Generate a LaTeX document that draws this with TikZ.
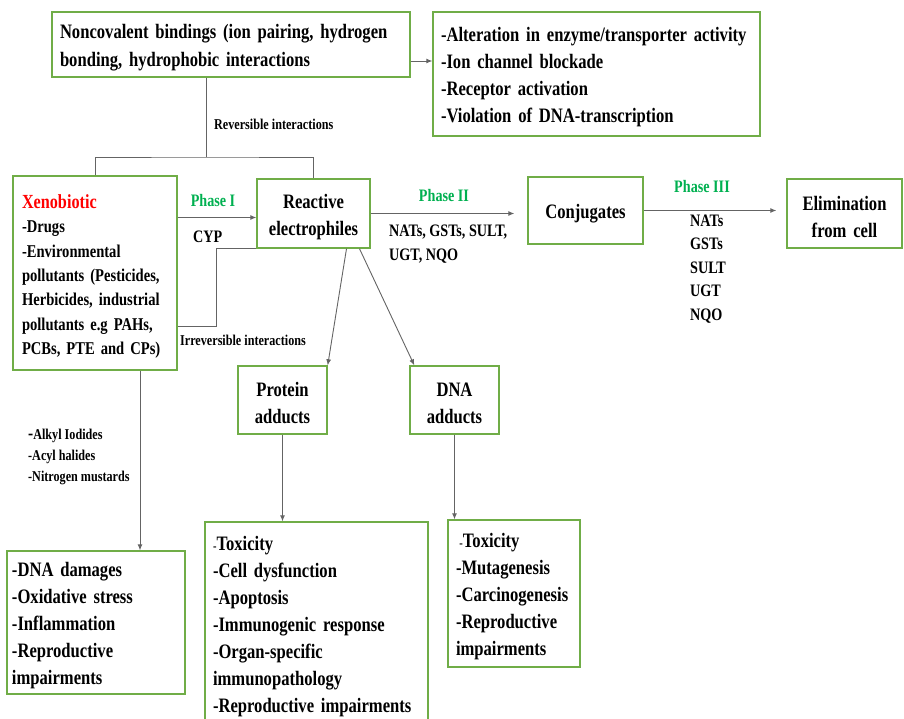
\documentclass[tikz,border=0pt]{standalone}
\usepackage{fontspec}
\setmainfont{Liberation Serif}[FakeStretch=0.81]
\usetikzlibrary{arrows.meta,calc}
\definecolor{boxgreen}{RGB}{112,173,71}
\definecolor{phasegreen}{RGB}{0,176,80}
\definecolor{linegray}{RGB}{100,100,100}
\newcommand{\fsz}[2]{\fontsize{#1}{#2}\selectfont}
\hyphenpenalty=10000

\begin{document}
\begin{tikzpicture}[
    x=1pt, y=-1pt,
    box/.style={draw=boxgreen, line width=1.4pt, inner sep=0pt, text height=21pt, align=center, font=\bfseries\fsz{20.5}{27}},
    lbox/.style={box, align=left},
    lab/.style={inner sep=0pt, font=\bfseries\fsz{17.5}{23.5}},
    phase/.style={lab, text=phasegreen},
    note/.style={inner sep=0pt, font=\bfseries\fsz{15}{21}},
    link/.style={draw=linegray, line width=0.9pt},
    arrow/.style={link, -{Latex[length=6pt,width=5pt]}}
]
\useasboundingbox (0,0) rectangle (904,718);

% top row
\node[lbox, minimum width=358pt, minimum height=65pt, inner xsep=8pt, text width=342pt, font=\bfseries\fsz{20.5}{28}] (nc) at (231,44.5) {Noncovalent bindings (ion pairing, hydrogen\\bonding, hydrophobic interactions};
\node[lbox, minimum width=327pt, minimum height=124pt, inner xsep=8pt, text width=311pt] (eff) at (596.5,74) {-Alteration in enzyme/transporter activity\\-Ion channel blockade\\-Receptor activation\\-Violation of DNA-transcription};

% main chain
\node[lbox, minimum width=164pt, minimum height=194pt, inner xsep=9pt, text width=146pt, font=\bfseries\fsz{18}{24.3}] (xeno) at (95,273) {{\color{red}\fsz{20}{24.3}Xenobiotic}\\-Drugs\\-Environmental\\pollutants (Pesticides,\\Herbicides, industrial\\pollutants e.g PAHs,\\PCBs, PTE and CPs)};
\node[box, minimum height=69pt, text width=113pt] (re) at (313.5,213.5) {Reactive\\electrophiles};
\node[box, minimum height=67pt, text width=115pt] (conj) at (585.5,210.5) {Conjugates};
\node[box, minimum height=69pt, text width=115pt] (elim) at (844.5,213.5) {Elimination\\from cell};

% adducts
\node[box, minimum height=68pt, text width=89pt] (pa) at (282.5,400) {Protein\\adducts};
\node[box, minimum height=68pt, text width=89pt] (da) at (454.5,400) {DNA\\adducts};

% outcomes
\node[lbox, minimum width=178pt, minimum height=143pt, inner xsep=5pt, text width=168pt] (dd) at (96,622.5) {-DNA damages\\-Oxidative stress\\-Inflammation\\-Reproductive\\impairments};
\node[lbox, minimum width=223pt, minimum height=202pt, inner xsep=8pt, text width=207pt] (pl) at (316.5,623) {{\fsz{13}{27}-}Toxicity\\-Cell dysfunction\\-Apoptosis\\-Immunogenic response\\-Organ-specific\\immunopathology\\-Reproductive impairments};
\node[lbox, minimum width=132pt, minimum height=147pt, inner xsep=8pt, text width=116pt] (dl) at (514,593.5) {\,{\fsz{13}{27}-}Toxicity\\-Mutagenesis\\-Carcinogenesis\\-Reproductive\\impairments};

% labels
\node[note, anchor=west] (rev) at (214,124) {Reversible interactions};
\node[note, anchor=west] (irr) at (180,340) {Irreversible interactions};
\node[phase] (ph1) at (213,201) {Phase I};
\node[lab, anchor=west] (cyp) at (193,237) {CYP};
\node[phase] (ph2) at (444,196) {Phase II};
\node[lab, anchor=west, align=left] (enz2) at (389,244) {NATs, GSTs, SULT,\\UGT, NQO};
\node[phase] (ph3) at (702,187) {Phase III};
\node[lab, anchor=west, align=left] (enz3) at (690,269) {NATs\\GSTs\\SULT\\UGT\\NQO};
\node[note, anchor=west, align=left] (alk) at (28,457) {{\fsz{19}{21}-}Alkyl Iodides\\-Acyl halides\\-Nitrogen mustards};

% connectors
\coordinate (split) at (206,157);
\draw[link] (nc.south -| split) -- (split);
\draw[link] (xeno.north) |- (split) -| (re.north);
\draw[arrow] ([yshift=-16.5pt]nc.east) -- ([yshift=-16.5pt]nc.east -| eff.west);
\coordinate (in1) at ([yshift=-4pt]re.west);
\draw[arrow] (xeno.east |- in1) -- (in1);
\draw[link] ([yshift=-53pt]xeno.east) -- ++(39,0) |- (re.south west);
\draw[arrow] (re.east) -- ([xshift=-13pt]conj.west |- re.east);
\draw[arrow] (conj.east) -- ([xshift=-10pt]elim.west |- conj.east);
\draw[arrow] ([xshift=45pt]xeno.south) -- ([xshift=45pt]xeno.south |- dd.north);
\draw[arrow] ([xshift=33pt]re.south) -- (pa.north east);
\draw[arrow] ([xshift=46pt]re.south) -- ([xshift=5pt]da.north west);
\draw[arrow] (pa.south) -- (pa.south |- pl.north);
\draw[arrow] (da.south) -- (da.south |- dl.north);
\end{tikzpicture}
\end{document}
